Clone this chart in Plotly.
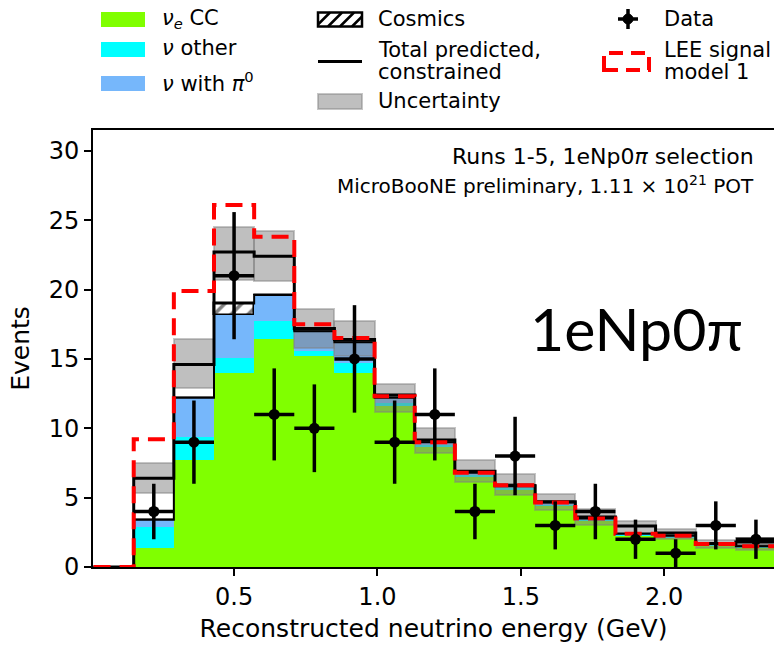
import numpy as np
import plotly.graph_objects as go

# ---- binning (GeV) ----
edges = np.round(0.01 + 0.14 * np.arange(18), 2)          # 17 bins, first one empty
centers = 0.5 * (edges[:-1] + edges[1:])
widths = np.diff(edges)

# ---- stacked unconstrained prediction (events per bin) ----
nue_cc   = [0, 1.35, 7.7, 14.0, 16.4, 15.2, 14.0, 11.6, 8.7, 6.5, 5.6, 4.45, 3.35, 2.3, 2.15, 1.55, 1.4]
nu_other = [0, 1.55, 1.7, 1.05, 1.3, 0.4, 0.7, 0.2, 0.1, 0.1, 0.1, 0.05, 0.05, 0.05, 0.05, 0.05, 0.05]
nu_pi0   = [0, 0.5, 2.8, 3.15, 1.9, 1.4, 1.5, 0.4, 0.2, 0.2, 0.2, 0.15, 0.1, 0.05, 0.05, 0.05, 0.05]
cosmics  = [0, 0.0, 0.0, 0.8, 0.0, 0.0, 0.0, 0.0, 0.0, 0.0, 0.0, 0.0, 0.0, 0.0, 0.0, 0.0, 0.0]

# ---- constrained total and its uncertainty band ----
total_constr = [0, 6.4, 14.6, 22.7, 22.4, 17.2, 16.4, 12.4, 9.15, 6.9, 5.85, 4.7, 3.6, 2.95, 2.45, 1.7, 1.8]
band_lo      = [0, 5.3, 12.9, 20.7, 20.6, 15.8, 15.2, 11.2, 8.2, 6.15, 5.2, 4.1, 3.0, 2.45, 2.05, 1.35, 1.25]
band_hi      = [0, 7.5, 16.4, 24.5, 24.2, 18.6, 17.7, 13.2, 10.0, 7.7, 6.7, 5.25, 4.2, 3.35, 2.72, 1.95, 2.07]

# ---- LEE signal model 1 (prediction + signal) ----
lee_model1 = [0, 9.2, 19.9, 26.1, 23.8, 17.5, 16.5, 12.3, 9.0, 6.8, 5.9, 4.65, 3.5, 2.4, 2.25, 1.65, 1.5]

# ---- observed data (bins 1..16) ----
data_counts = [4, 9, 21, 11, 10, 15, 9, 11, 4, 8, 3, 4, 2, 1, 3, 2]

# ---- axis ticks ----
x_ticks = [0.5, 1.0, 1.5, 2.0]
x_tick_text = ["0.5", "1.0", "1.5", "2.0"]
y_ticks = [0, 5, 10, 15, 20, 25, 30]

FONT = "DejaVu Sans"
GREEN = "#80ff00"
CYAN = "#00ffff"
BLUE = "#76b7fb"

fig = go.Figure()

# stacked components as bars with explicit bases
components = [nue_cc, nu_other, nu_pi0]
colors = [GREEN, CYAN, BLUE]
base = np.zeros(len(centers))
for vals, col in zip(components, colors):
    vals = np.asarray(vals, float)
    fig.add_trace(go.Bar(x=centers, y=vals, base=base, width=widths,
                         marker=dict(color=col, line=dict(width=0)),
                         showlegend=False, hoverinfo="skip"))
    base = base + vals

cos = np.asarray(cosmics, float)
fig.add_trace(go.Bar(x=centers, y=cos, base=base, width=widths,
                     marker=dict(color="white",
                                 line=dict(color="black", width=1.5),
                                 pattern=dict(shape="/", fgcolor="black", bgcolor="white",
                                              size=12, solidity=0.3)),
                     showlegend=False, hoverinfo="skip"))
stack_top = base + cos


def step_xy(vals, start=1):
    """Step outline from bin `start` on, dropping to zero at the left edge."""
    v = np.asarray(vals, float)[start:]
    xs = np.concatenate([[edges[start]], edges[start:]])
    ys = np.concatenate([[0.0], v, [v[-1]]])
    return xs, ys


# outline of the stacked prediction
sx, sy = step_xy(stack_top)
fig.add_trace(go.Scatter(x=sx, y=sy, mode="lines", line=dict(color="black", width=2, shape="hv"),
                         showlegend=False, hoverinfo="skip"))

# uncertainty band around the constrained total
lo = np.asarray(band_lo, float)
hi = np.asarray(band_hi, float)
fig.add_trace(go.Bar(x=centers[1:], y=(hi - lo)[1:], base=lo[1:], width=widths[1:],
                     marker=dict(color="rgba(128,128,128,0.5)",
                                 line=dict(color="rgba(128,128,128,0.45)", width=2)),
                     showlegend=False, hoverinfo="skip"))

# constrained total
tx, ty = step_xy(total_constr)
fig.add_trace(go.Scatter(x=tx, y=ty, mode="lines", line=dict(color="black", width=3, shape="hv"),
                         showlegend=False, hoverinfo="skip"))

# LEE model (starts from the empty first bin)
lx, ly = step_xy(lee_model1, start=0)
fig.add_trace(go.Scatter(x=lx, y=ly, mode="lines",
                         line=dict(color="#ff0000", width=4, dash="17px,9px", shape="hv"),
                         showlegend=False, hoverinfo="skip"))

# data points with Poisson errors
d = np.asarray(data_counts, float)
fig.add_trace(go.Scatter(x=centers[1:], y=d, mode="markers",
                         marker=dict(color="black", size=11),
                         error_x=dict(type="data", array=widths[1:] / 2, color="black",
                                      thickness=3.5, width=0),
                         error_y=dict(type="data", array=np.sqrt(d), color="black",
                                      thickness=3.5, width=0),
                         showlegend=False, hoverinfo="skip"))

# ---- hand-drawn legend above the axes (pixel positions -> paper) ----
L, R, T, B = 93, 774, 130, 567


def px(xp):
    return (xp - L) / (R - L)


def py(yp):
    return (B - yp) / (B - T)


shapes = []
annotations = []


def patch(x0, x1, y0, y1, fill, line_col=None, lw=0):
    shapes.append(dict(type="rect", xref="paper", yref="paper",
                       x0=px(x0), x1=px(x1), y0=py(y1), y1=py(y0),
                       fillcolor=fill, line=dict(color=line_col or fill, width=lw)))


def label(x, y, text, size=21):
    annotations.append(dict(x=px(x), y=py(y), xref="paper", yref="paper", text=text,
                            showarrow=False, xanchor="left", yanchor="middle",
                            font=dict(family=FONT, size=size, color="black")))


# column 1
patch(101, 145, 12, 27, GREEN)
label(160, 19, "<i>ν</i><sub><i>e</i></sub> CC")
patch(101, 145, 42, 57, CYAN)
label(160, 48, "<i>ν</i> other")
patch(101, 145, 76, 91, BLUE)
label(160, 82, "<i>ν</i> with <i>π</i><sup>0</sup>")

# column 2: hatched cosmics box
hx0, hx1, hy0, hy1 = 318, 362, 12.5, 26.5
patch(hx0, hx1, hy0, hy1, "white", "black", 2.5)
for start in np.arange(hx0 - 14, hx1 + 1, 12):
    # segment of slope -1 in pixel space, clipped to the box
    a0, a1 = max(start, hx0), min(start + (hy1 - hy0), hx1)
    if a1 <= a0:
        continue
    ya = hy1 - (a0 - start)
    yb = hy1 - (a1 - start)
    shapes.append(dict(type="line", xref="paper", yref="paper",
                       x0=px(a0), x1=px(a1), y0=py(ya), y1=py(yb),
                       line=dict(color="black", width=2.5)))
label(376, 19, "Cosmics")
shapes.append(dict(type="line", xref="paper", yref="paper",
                   x0=px(318), x1=px(362), y0=py(61.5), y1=py(61.5),
                   line=dict(color="black", width=3)))
label(376, 50, "Total predicted,")
label(376, 72, "constrained")
patch(318, 362, 94, 109, "rgba(128,128,128,0.5)", "rgba(128,128,128,0.45)", 2)
label(376, 101, "Uncertainty")

# column 3
shapes.append(dict(type="line", xref="paper", yref="paper",
                   x0=px(628), x1=px(628), y0=py(9), y1=py(29),
                   line=dict(color="black", width=3.5)))
shapes.append(dict(type="line", xref="paper", yref="paper",
                   x0=px(618), x1=px(638), y0=py(19), y1=py(19),
                   line=dict(color="black", width=3.5)))
shapes.append(dict(type="circle", xref="paper", yref="paper",
                   x0=px(623), x1=px(633), y0=py(24), y1=py(14),
                   fillcolor="black", line=dict(color="black", width=1)))
label(662, 19, "Data")
shapes.append(dict(type="rect", xref="paper", yref="paper",
                   x0=px(604), x1=px(649), y0=py(70), y1=py(53),
                   fillcolor="rgba(0,0,0,0)",
                   line=dict(color="#ff0000", width=4, dash="14px,8px")))
label(662, 50, "LEE signal")
label(662, 72, "model 1")

# ---- in-plot text ----
annotations.append(dict(x=px(756), y=py(156), xref="paper", yref="paper",
                        text="Runs 1-5, 1eNp0<i>π</i> selection", showarrow=False,
                        xanchor="right", yanchor="middle",
                        font=dict(family=FONT, size=22, color="black")))
annotations.append(dict(x=px(756), y=py(185), xref="paper", yref="paper",
                        text="MicroBooNE preliminary, 1.11 × 10<sup>21</sup> POT", showarrow=False,
                        xanchor="right", yanchor="middle",
                        font=dict(family=FONT, size=20, color="black")))
annotations.append(dict(x=px(636), y=py(328), xref="paper", yref="paper",
                        text="1eNp0π", showarrow=False,
                        xanchor="center", yanchor="middle",
                        font=dict(family="Lato", size=59, color="black")))

fig.update_layout(
    width=774, height=646,
    margin=dict(l=L, r=774 - R, t=T, b=646 - B),
    paper_bgcolor="white", plot_bgcolor="white",
    barmode="overlay", bargap=0,
    shapes=shapes, annotations=annotations,
    showlegend=False,
    font=dict(family=FONT, color="black"),
)
fig.update_xaxes(range=[0.008, 2.383], tickvals=x_ticks, ticktext=x_tick_text,
                 ticks="outside", ticklen=7, tickwidth=1.5, tickcolor="black",
                 showline=True, linecolor="black", linewidth=2, mirror=True,
                 showgrid=False, zeroline=False,
                 tickfont=dict(family=FONT, size=24),
                 title=dict(text="Reconstructed neutrino energy (GeV)",
                            font=dict(family=FONT, size=25), standoff=10))
fig.update_yaxes(range=[0, 31.5], tickvals=y_ticks,
                 ticks="outside", ticklen=7, tickwidth=1.5, tickcolor="black",
                 showline=True, linecolor="black", linewidth=2, mirror=False,
                 showgrid=False, zeroline=False,
                 tickfont=dict(family=FONT, size=24),
                 title=dict(text="Events", font=dict(family=FONT, size=25), standoff=12))

fig.write_html("out.html")
